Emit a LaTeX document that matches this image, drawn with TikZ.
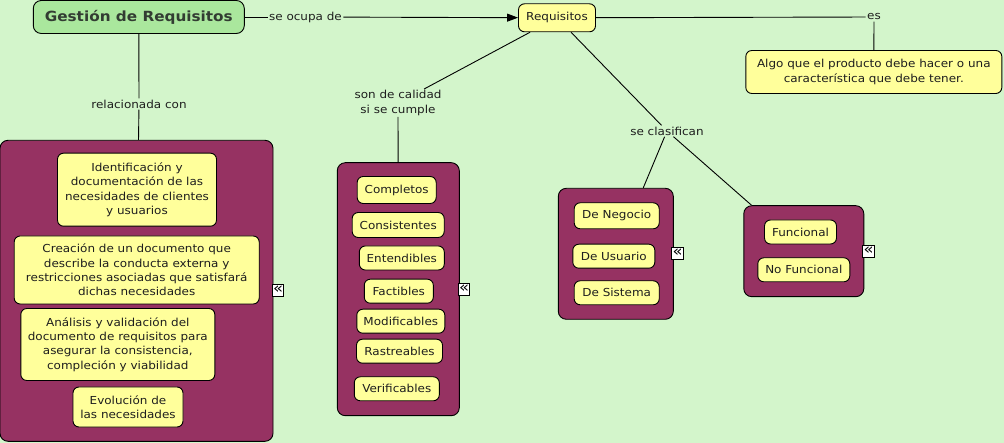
\documentclass[tikz,border=0pt]{standalone}
\usepackage{fontspec}
\setmainfont{DejaVu Sans}[FakeStretch=1.09]
\usetikzlibrary{arrows.meta}
\definecolor{fondo}{RGB}{211,245,203}
\definecolor{verde}{RGB}{170,231,157}
\definecolor{amarillo}{RGB}{255,255,155}
\definecolor{granate}{RGB}{150,50,98}
\definecolor{tinta}{RGB}{30,30,30}

\begin{document}
\begin{tikzpicture}[x=1pt, y=-1pt, line width=0.9pt,
    concept/.style = {draw, fill=amarillo, text=tinta, rounded corners=6pt, inner sep=0pt, align=center, font=\fontsize{11}{14.4}\selectfont},
    title/.style = {concept, fill=verde, rounded corners=8pt, text={rgb,255:red,50;green,60;blue,50}, font=\fontsize{14}{16}\selectfont\bfseries},
    group/.style = {draw, fill=granate, rounded corners=8pt, inner sep=0pt},
    link/.style = {text=tinta, inner sep=1pt, align=center, font=\fontsize{11}{14.4}\selectfont},
    expand/.style = {draw, fill=white, line width=0.7pt, inner sep=0pt, minimum size=11.5pt, text height=6pt, text depth=0pt, font=\fontsize{15}{15}\selectfont}]
    \path[use as bounding box, fill=fondo] (0,0) rectangle (1004,443);

    % conceptos principales
    \node[title, minimum width=211pt, minimum height=33pt] (1) at (138.8,17) {Gestión de Requisitos};
    \node[concept, minimum width=77pt, minimum height=28pt] (2) at (557,17.8) {Requisitos};
    \node[concept, minimum width=256pt, minimum height=43pt] (3) at (873.8,72) {Algo que el producto debe hacer o una\\característica que debe tener.};

    % frases de enlace
    \node[link] (oc) at (305.5,17) {se ocupa de};
    \node[link] (es) at (874,17) {es};
    \node[link] (rc) at (139,104) {relacionada con};
    \node[link] (sc) at (398,103) {son de calidad\\si se cumple};
    \node[link] (cl) at (667,131) {se clasifican};

    % grupos
    \node[group, minimum width=273pt, minimum height=301pt] (g1) at (136.5,290.8) {};
    \node[group, minimum width=122pt, minimum height=253pt] (g2) at (398.3,289.2) {};
    \node[group, minimum width=115pt, minimum height=131pt] (g3) at (615.8,253.8) {};
    \node[group, minimum width=120pt, minimum height=91pt] (g4) at (803.8,251.2) {};

    % actividades
    \node[concept, minimum width=159pt, minimum height=73pt] (4) at (137,189.7) {Identificación y\\documentación de las\\necesidades de clientes\\y usuarios};
    \node[concept, minimum width=245pt, minimum height=68pt] (5) at (136.7,270) {Creación de un documento que\\describe la conducta externa y\\restricciones asociadas que satisfará\\dichas necesidades};
    \node[concept, minimum width=194pt, minimum height=72pt] (6) at (117.8,344.5) {Análisis y validación del\\documento de requisitos para\\asegurar la consistencia,\\compleción y viabilidad};
    \node[concept, minimum width=110pt, minimum height=40pt] (7) at (128,407) {Evolución de\\las necesidades};

    % calidad
    \node[concept, minimum width=79pt, minimum height=27pt] (8) at (396.7,190) {Completos};
    \node[concept, minimum width=92pt, minimum height=25pt] (9) at (398.2,225) {Consistentes};
    \node[concept, minimum width=85pt, minimum height=24pt] (10) at (401.8,258) {Entendibles};
    \node[concept, minimum width=69pt, minimum height=24pt] (11) at (398.8,291.2) {Factibles};
    \node[concept, minimum width=88pt, minimum height=24pt] (12) at (400.8,321.2) {Modificables};
    \node[concept, minimum width=86pt, minimum height=24pt] (13) at (399.5,351.2) {Rastreables};
    \node[concept, minimum width=85pt, minimum height=24pt] (14) at (396.8,388.8) {Verificables};

    % clasificacion
    \node[concept, minimum width=85pt, minimum height=26pt] (15) at (616.7,215.8) {De Negocio};
    \node[concept, minimum width=82pt, minimum height=24pt] (16) at (613.8,256.2) {De Usuario};
    \node[concept, minimum width=85pt, minimum height=24pt] (17) at (616.7,292.8) {De Sistema};
    \node[concept, minimum width=72pt, minimum height=24pt] (18) at (800.5,232) {Funcional};
    \node[concept, minimum width=92pt, minimum height=24pt] (19) at (803.8,269.8) {No Funcional};

    % iconos de expandir
    \node[expand] (e1) at (278,290.5) {«};
    \node[expand] (e2) at (464,289.5) {«};
    \node[expand] (e3) at (677.5,253.5) {«};
    \node[expand] (e4) at (868.5,251.5) {«};

    \draw (1) -- (oc);
    \draw[-{Triangle[length=11pt,width=8pt]}] (oc) -- (2);
    \draw (2) -- (es);
    \draw (es) -- (3);
    \draw (1) -- (rc);
    \draw (rc) -- (g1);
    \draw (2) -- (sc);
    \draw (sc) -- (g2);
    \draw (2) -- (cl);
    \draw (cl) -- (g3);
    \draw (cl) -- (g4);
\end{tikzpicture}
\end{document}
